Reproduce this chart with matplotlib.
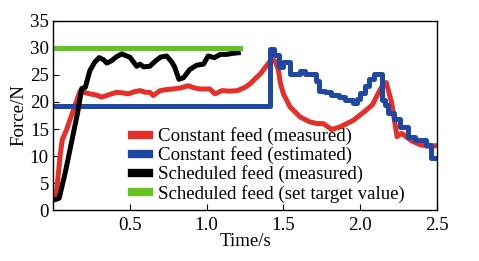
import matplotlib
matplotlib.use("Agg")
import matplotlib.pyplot as plt

# ---- data ----
red_x = [0.02, 0.046, 0.06, 0.09, 0.12, 0.145, 0.176, 0.20, 0.24, 0.28, 0.317, 0.36, 0.415, 0.45, 0.49,
         0.53, 0.566, 0.60, 0.63, 0.653, 0.697, 0.74, 0.78, 0.83, 0.88, 0.92, 0.957, 1.02, 1.055, 1.10,
         1.15, 1.20, 1.25, 1.28, 1.35, 1.39, 1.42, 1.445, 1.467, 1.48, 1.50, 1.543, 1.61, 1.673, 1.72,
         1.76, 1.815, 1.87, 1.955, 2.04, 2.08, 2.11, 2.15, 2.17, 2.205, 2.24, 2.27, 2.335, 2.39, 2.44, 2.487]
red_y = [2.5, 10.0, 13.0, 15.0, 17.5, 19.5, 22.0, 21.8, 21.5, 21.3, 20.9, 21.3, 21.8, 21.7, 21.5,
         21.9, 22.1, 21.8, 21.8, 21.2, 22.1, 22.3, 22.4, 22.6, 23.0, 22.6, 22.4, 22.4, 21.5, 22.1,
         22.0, 22.1, 22.7, 23.3, 25.2, 26.7, 27.8, 27.6, 26.0, 23.5, 21.5, 19.1, 17.2, 16.3, 16.0,
         16.0, 14.9, 15.4, 16.6, 18.5, 19.5, 21.2, 23.3, 23.6, 19.8, 13.6, 14.2, 12.8, 12.1, 11.8, 11.9]

blue_x = [0.0, 1.413, 1.44, 1.47, 1.50, 1.54, 1.61, 1.64, 1.71, 1.73, 1.77, 1.81, 1.86, 1.90, 1.95,
          1.98, 2.00, 2.03, 2.06, 2.09, 2.14, 2.16, 2.18, 2.22, 2.26, 2.31, 2.36, 2.43, 2.46, 2.48]
blue_y = [19.2, 29.8, 28.6, 26.4, 27.4, 25.2, 25.8, 25.2, 23.9, 22.1, 21.8, 21.2, 20.9, 20.3, 19.8,
          20.6, 21.6, 23.0, 24.2, 25.1, 20.3, 19.5, 18.0, 16.8, 15.4, 13.6, 13.0, 12.0, 9.7, 9.7]

black_x = [0.02, 0.04, 0.08, 0.12, 0.16, 0.187, 0.21, 0.24, 0.27, 0.30, 0.33, 0.35, 0.38, 0.41, 0.447,
           0.48, 0.50, 0.545, 0.566, 0.59, 0.63, 0.664, 0.70, 0.74, 0.77, 0.79, 0.805, 0.82, 0.85, 0.89,
           0.935, 0.98, 1.01, 1.05, 1.09, 1.13, 1.17, 1.206]
black_y = [2.0, 2.2, 7.0, 12.5, 18.0, 22.5, 22.7, 25.8, 27.3, 28.2, 27.8, 27.2, 27.6, 28.3, 28.9,
           28.5, 28.3, 26.6, 27.0, 26.5, 26.6, 27.5, 28.3, 28.5, 27.5, 26.6, 25.4, 24.2, 24.5, 26.0,
           26.8, 27.0, 28.5, 28.2, 28.8, 28.8, 29.0, 29.1]

green_x = [0.0, 1.22]
green_y = [30.0, 30.0]

labels = ["Constant feed (measured)", "Constant feed (estimated)",
          "Scheduled feed (measured)", "Scheduled feed (set target value)"]
xticks = [0.5, 1.0, 1.5, 2.0, 2.5]
xticklabels = ["0.5", "1.0", "1.5", "2.0", "2.5"]
yticks = [0, 5, 10, 15, 20, 25, 30, 35]

# ---- plot ----
plt.rcParams['font.family'] = ['Liberation Serif', 'DejaVu Serif']
fig = plt.figure(figsize=(4.79, 2.61), dpi=100)
ax = fig.add_axes([0.1107, 0.195, 0.8016, 0.725])

lw = 3.6
ax.plot(red_x, red_y, color='#e5302a', lw=lw, label=labels[0], solid_joinstyle='round')
ax.plot(blue_x, blue_y, color='#1f48a6', lw=lw, drawstyle='steps-post', label=labels[1])
ax.plot(black_x, black_y, color='black', lw=lw, label=labels[2], solid_joinstyle='round')
ax.plot(green_x, green_y, color='#66c21e', lw=lw, label=labels[3])

fs = 13.6
ax.set_xlim(0, 2.5)
ax.set_ylim(0, 35)
ax.set_xticks(xticks)
ax.set_xticklabels(xticklabels)
ax.set_yticks(yticks)
ax.tick_params(direction='in', length=4, width=0.8, labelsize=fs)
ax.tick_params(axis='x', pad=5)
ax.tick_params(axis='y', pad=3)
for s in ax.spines.values():
    s.set_linewidth(1.0)

ax.set_xlabel("Time/s", fontsize=fs, labelpad=-1)
ax.set_ylabel("Force/N", fontsize=fs, labelpad=2)

leg = ax.legend(loc='lower left', bbox_to_anchor=(0.195, 0.02), frameon=False, fontsize=fs,
                handlelength=0.9, handletextpad=0.5, labelspacing=0.06, borderaxespad=0,
                borderpad=0.2)
for h in leg.get_lines():
    h.set_linewidth(6)

fig.savefig("out.png", dpi=100)
